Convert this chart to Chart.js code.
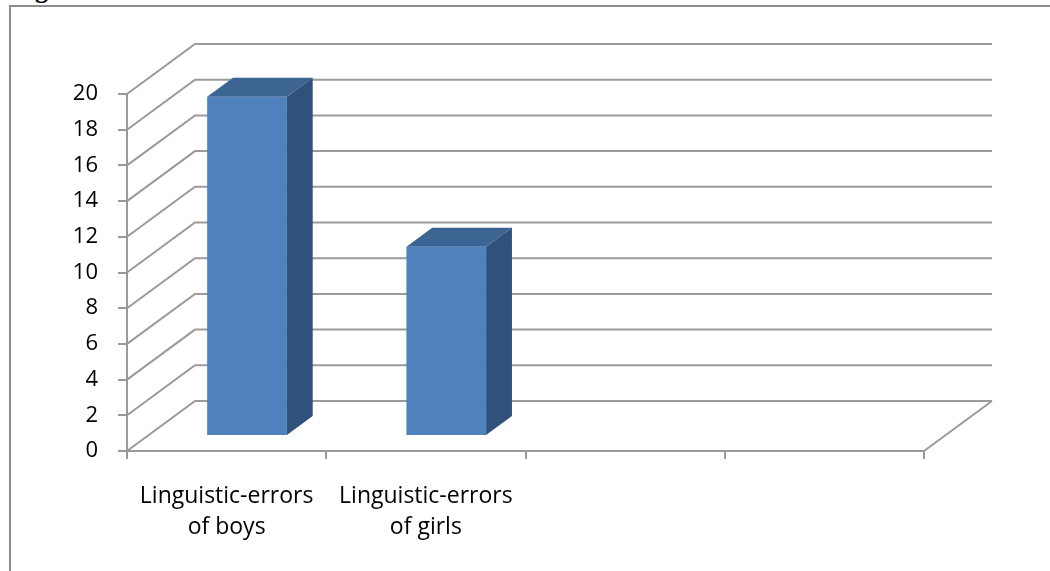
<!DOCTYPE html>
<html>
<head>
<meta charset="utf-8">
<title>Linguistic errors</title>
<script src="https://cdn.jsdelivr.net/npm/chart.js@4.4.1/dist/chart.umd.min.js"></script>
<style>
  html, body { margin: 0; padding: 0; background: #fff; overflow: hidden; }
  #wrap { position: relative; width: 1050px; height: 571px; overflow: hidden; }
  #frame { position: absolute; left: 9px; top: 5px; right: -5px; bottom: -5px;
           border-left: 2px solid #8c8c8c; border-top: 2px solid #8c8c8c; }
  #cap { position: absolute; left: 35px; top: -23px; font: bold 26px/26px "Liberation Serif", serif; }
  canvas { position: absolute; left: 0; top: 0; }
</style>
</head>
<body>
<div id="wrap">
  <div id="cap">g</div>
  <div id="frame"></div>
  <canvas id="chart" width="1050" height="571"></canvas>
</div>
<script>
// data
const categories = [['Linguistic-errors', 'of boys'], ['Linguistic-errors', 'of girls'], '', ''];
const errorCounts = [19, 10.6, null, null];
const yTicks = [0, 2, 4, 6, 8, 10, 12, 14, 16, 18, 20];

// fake 3d look (excel style)
const wallDepth = { x: 68, y: 50 };
const barFront = 0.3;   // where the front of the bars sits inside the depth
const barDepth = 0.38;
const gridColor = '#9a9a9a';
const faceColors = { front: '#4f81bd', top: '#3c6594', side: '#30527a' };
const labelFont = '"Open Sans", sans-serif';

const walls = {
  id: 'walls',
  beforeDatasetsDraw(chart) {
    const { ctx, chartArea: a, scales: { y } } = chart;
    const dx = wallDepth.x, dy = wallDepth.y;
    ctx.save();
    ctx.strokeStyle = gridColor;
    ctx.lineWidth = 2;
    ctx.beginPath();
    y.ticks.forEach(t => {
      const py = y.getPixelForValue(t.value);
      ctx.moveTo(a.left, py);
      ctx.lineTo(a.left + dx, py - dy);
      ctx.lineTo(a.right + dx, py - dy);
    });
    // right edge of the floor
    ctx.moveTo(a.right, a.bottom);
    ctx.lineTo(a.right + dx, a.bottom - dy);
    ctx.stroke();
    ctx.restore();
  },
  // front faces are drawn by chart.js, pushed back into the depth
  beforeDatasetDraw(chart) {
    chart.ctx.save();
    chart.ctx.translate(wallDepth.x * barFront, -wallDepth.y * barFront);
  },
  afterDatasetDraw(chart) {
    chart.ctx.restore();
  },
  afterDatasetsDraw(chart) {
    const ctx = chart.ctx;
    const fx = wallDepth.x * barFront, fy = wallDepth.y * barFront;
    const bx = wallDepth.x * barDepth, by = wallDepth.y * barDepth;
    chart.getDatasetMeta(0).data.forEach((bar, i) => {
      if (errorCounts[i] == null) return;
      const p = bar.getProps(['x', 'y', 'base', 'width'], true);
      const x0 = p.x - p.width / 2 + fx, x1 = p.x + p.width / 2 + fx;
      const yt = p.y - fy, yb = p.base - fy;
      ctx.save();
      ctx.fillStyle = faceColors.top;
      ctx.beginPath();
      ctx.moveTo(x0, yt);
      ctx.lineTo(x1, yt);
      ctx.lineTo(x1 + bx, yt - by);
      ctx.lineTo(x0 + bx, yt - by);
      ctx.closePath();
      ctx.fill();
      ctx.fillStyle = faceColors.side;
      ctx.beginPath();
      ctx.moveTo(x1, yt);
      ctx.lineTo(x1 + bx, yt - by);
      ctx.lineTo(x1 + bx, yb - by);
      ctx.lineTo(x1, yb);
      ctx.closePath();
      ctx.fill();
      ctx.restore();
    });
  }
};

new Chart(document.getElementById('chart'), {
  type: 'bar',
  data: {
    labels: categories,
    datasets: [{
      data: errorCounts,
      backgroundColor: faceColors.front,
      borderWidth: 0,
      categoryPercentage: 1,
      barPercentage: 0.4,
      clip: false
    }]
  },
  options: {
    responsive: false,
    animation: false,
    events: [],
    layout: { padding: { top: 94, right: 126, left: 0, bottom: 0 } },
    plugins: { legend: { display: false }, tooltip: { enabled: false } },
    scales: {
      x: {
        afterFit: s => { s.height = 120; },
        grid: { display: true, drawOnChartArea: false, drawTicks: true, tickLength: 8, color: gridColor, lineWidth: 2 },
        border: { display: true, color: gridColor, width: 2 },
        ticks: {
          color: '#000', maxRotation: 0, autoSkip: false, padding: 22,
          font: { family: labelFont, size: 23, lineHeight: 1.36 }
        }
      },
      y: {
        min: yTicks[0],
        max: yTicks[yTicks.length - 1],
        afterFit: s => { s.width = 127; },
        afterBuildTicks: s => { s.ticks = yTicks.map(v => ({ value: v })); },
        grid: { display: true, drawOnChartArea: false, drawTicks: true, tickLength: 9, color: gridColor, lineWidth: 2 },
        border: { display: true, color: gridColor, width: 2 },
        ticks: {
          color: '#000', padding: 20,
          font: { family: labelFont, size: 22 }
        }
      }
    }
  },
  plugins: [walls]
});
</script>
</body>
</html>
